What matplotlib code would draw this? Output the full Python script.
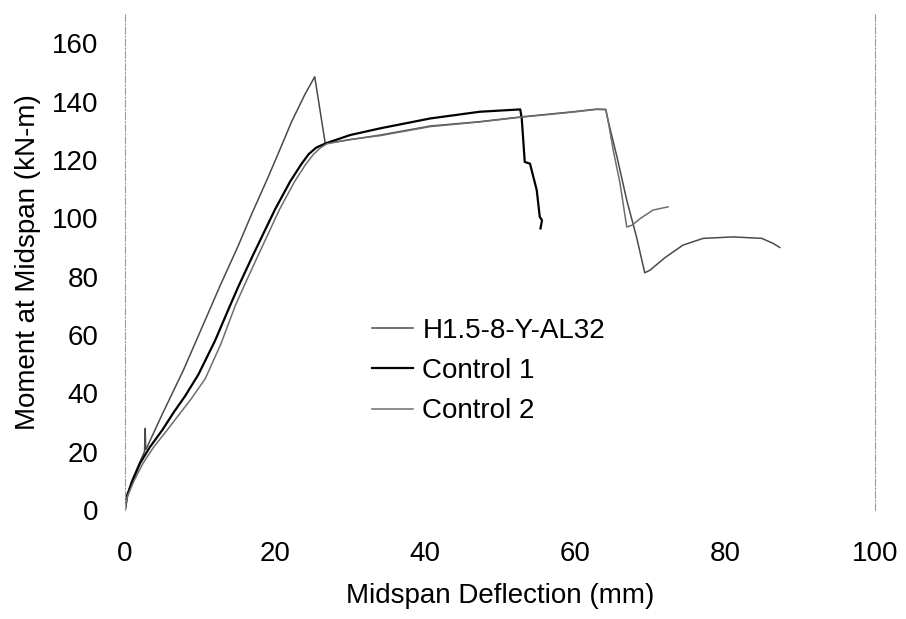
#!/usr/bin/env python3
import matplotlib
matplotlib.use("Agg")
import matplotlib.pyplot as plt

plt.rcParams['font.family'] = ['Liberation Sans', 'DejaVu Sans']

# readings: deflection (mm), moment (kN-m)
h15_defl = [0, 0.2, 0.9, 2.0, 2.6, 2.7, 2.75, 2.8, 5.0, 7.8, 10.0, 12.7, 15.0, 16.9, 18.9,
            20.4, 22.2, 24.0, 25.3, 26.7, 34.0, 40.7, 47.3, 52.7, 59.8, 62.9, 64.1, 64.4,
            65.6, 66.9, 68.2, 69.3, 70.0, 72.0, 74.4, 77.1, 81.1, 84.9, 86.4, 87.3]
h15_mom = [0, 4.6, 10.0, 16.5, 20.0, 28.0, 21.0, 20.8, 33.0, 48.0, 61.0, 77.0, 90.0, 101.5, 113.0,
           122.0, 133.0, 142.5, 148.5, 125.6, 128.5, 131.6, 133.1, 134.7, 136.5, 137.4, 137.3,
           133.6, 121.0, 106.2, 93.6, 81.3, 82.2, 86.5, 90.8, 93.1, 93.6, 93.1, 91.4, 90.0]

ctrl1_defl = [0, 0.3, 1.0, 2.0, 3.3, 5.0, 6.5, 8.0, 9.8, 12.0, 14.0, 15.1, 17.0, 20.0, 22.0,
              23.5, 24.5, 25.5, 26.7, 30.0, 34.0, 40.7, 47.3, 52.7, 52.9, 53.3, 54.0, 54.9,
              55.3, 55.6, 55.4]
ctrl1_mom = [0, 5.0, 10.0, 16.0, 21.5, 27.5, 33.5, 39.0, 46.5, 58.0, 70.0, 76.5, 87.0, 103.0, 112.5,
             118.5, 122.0, 124.2, 125.6, 128.5, 130.8, 134.2, 136.5, 137.3, 134.2, 119.3, 118.7,
             109.6, 100.5, 99.3, 96.5]

ctrl2_defl = [0, 0.3, 1.2, 2.4, 3.8, 5.5, 7.0, 8.8, 10.7, 12.8, 14.7, 16.0, 17.7, 20.6, 22.6,
              24.1, 25.1, 26.0, 26.9, 30.0, 34.0, 40.7, 47.3, 52.7, 59.8, 62.9, 64.1, 64.4,
              65.1, 66.0, 66.9, 67.6, 68.7, 70.4, 72.4]
ctrl2_mom = [0, 4.5, 10.0, 16.0, 21.5, 27.0, 32.0, 38.0, 45.0, 57.0, 70.0, 77.5, 87.0, 103.0, 112.5,
             118.5, 121.8, 124.0, 125.5, 127.0, 128.3, 131.4, 133.0, 134.6, 136.4, 137.3, 137.2,
             133.6, 123.3, 112.0, 97.0, 97.6, 99.9, 102.8, 103.9]

x_ticks = [0, 20, 40, 60, 80, 100]
y_ticks = [0, 20, 40, 60, 80, 100, 120, 140, 160]

fig = plt.figure(figsize=(9.06, 6.19), dpi=100)
ax = fig.add_axes([125 / 906, 109 / 619, 750 / 906, 496 / 619])

ax.plot(h15_defl, h15_mom, color='#4a4a4a', lw=1.1, label='H1.5-8-Y-AL32')
ax.plot(ctrl1_defl, ctrl1_mom, color='black', lw=1.6, label='Control 1')
ax.plot(ctrl2_defl, ctrl2_mom, color='#6e6e6e', lw=1.1, label='Control 2')

ax.set_xlim(0, 100)
ax.set_ylim(0, 170)
ax.set_xticks(x_ticks)
ax.set_yticks(y_ticks)
ax.tick_params(axis='both', length=0, labelsize=20)
ax.tick_params(axis='y', pad=19)
ax.tick_params(axis='x', pad=22)

for side in ['top', 'bottom']:
    ax.spines[side].set_visible(False)
for side in ['left', 'right']:
    ax.spines[side].set_color('#9a9a9a')
    ax.spines[side].set_linewidth(0.8)
    ax.spines[side].set_linestyle((0, (6, 2, 1, 2)))

ax.set_xlabel('Midspan Deflection (mm)', fontsize=20)
ax.set_ylabel('Moment at Midspan (kN-m)', fontsize=20)
ax.xaxis.set_label_coords(0.5, -0.148)
ax.yaxis.set_label_coords(-0.112, 0.5)

ax.legend(loc='upper left', bbox_to_anchor=(0.329, 0.388), frameon=False,
          fontsize=20, handlelength=1.5, handletextpad=0.32, labelspacing=0.52,
          borderpad=0, borderaxespad=0)

fig.savefig('out.png', dpi=100)
